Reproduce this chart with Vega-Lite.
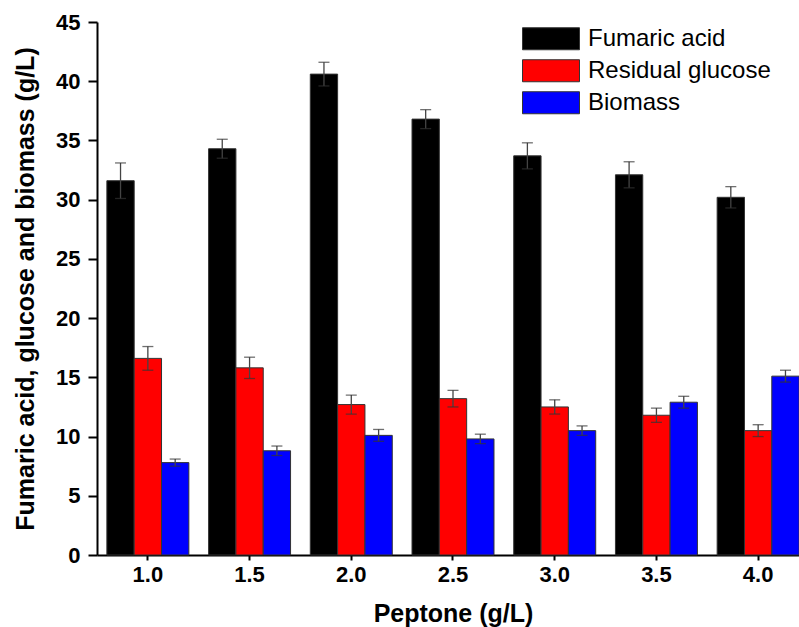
{
  "$schema": "https://vega.github.io/schema/vega-lite/v6.json",
  "autosize": {"type": "none"},
  "padding": {"left": 97, "top": 22, "right": 0, "bottom": 72},
  "width": 712,
  "height": 533,
  "background": "white",
  "config": {
    "view": {"stroke": null},
    "font": "Liberation Sans"
  },
  "data": {
    "values": [
      {"peptone": "1.0", "series": "Fumaric acid", "value": 31.6, "lo": 30.1, "hi": 33.1},
      {"peptone": "1.5", "series": "Fumaric acid", "value": 34.3, "lo": 33.5, "hi": 35.1},
      {"peptone": "2.0", "series": "Fumaric acid", "value": 40.6, "lo": 39.6, "hi": 41.6},
      {"peptone": "2.5", "series": "Fumaric acid", "value": 36.8, "lo": 36.0, "hi": 37.6},
      {"peptone": "3.0", "series": "Fumaric acid", "value": 33.7, "lo": 32.6, "hi": 34.8},
      {"peptone": "3.5", "series": "Fumaric acid", "value": 32.1, "lo": 31.0, "hi": 33.2},
      {"peptone": "4.0", "series": "Fumaric acid", "value": 30.2, "lo": 29.3, "hi": 31.1},
      {"peptone": "1.0", "series": "Residual glucose", "value": 16.6, "lo": 15.6, "hi": 17.6},
      {"peptone": "1.5", "series": "Residual glucose", "value": 15.8, "lo": 14.9, "hi": 16.7},
      {"peptone": "2.0", "series": "Residual glucose", "value": 12.7, "lo": 11.9, "hi": 13.5},
      {"peptone": "2.5", "series": "Residual glucose", "value": 13.2, "lo": 12.5, "hi": 13.9},
      {"peptone": "3.0", "series": "Residual glucose", "value": 12.5, "lo": 11.9, "hi": 13.1},
      {"peptone": "3.5", "series": "Residual glucose", "value": 11.8, "lo": 11.2, "hi": 12.4},
      {"peptone": "4.0", "series": "Residual glucose", "value": 10.5, "lo": 10.0, "hi": 11.0},
      {"peptone": "1.0", "series": "Biomass", "value": 7.8, "lo": 7.5, "hi": 8.1},
      {"peptone": "1.5", "series": "Biomass", "value": 8.8, "lo": 8.4, "hi": 9.2},
      {"peptone": "2.0", "series": "Biomass", "value": 10.1, "lo": 9.6, "hi": 10.6},
      {"peptone": "2.5", "series": "Biomass", "value": 9.8, "lo": 9.4, "hi": 10.2},
      {"peptone": "3.0", "series": "Biomass", "value": 10.5, "lo": 10.1, "hi": 10.9},
      {"peptone": "3.5", "series": "Biomass", "value": 12.9, "lo": 12.4, "hi": 13.4},
      {"peptone": "4.0", "series": "Biomass", "value": 15.1, "lo": 14.6, "hi": 15.6}
    ]
  },
  "encoding": {
    "x": {
      "field": "peptone", "type": "nominal",
      "scale": {"paddingInner": 0.194, "paddingOuter": 0.097},
      "axis": {
        "title": "Peptone (g/L)", "labelAngle": 0,
        "domainColor": "black", "domainWidth": 2,
        "tickColor": "black", "tickWidth": 2, "tickSize": 5,
        "labelFontSize": 22, "labelFontWeight": "bold", "labelColor": "black", "labelPadding": 4,
        "titleFontSize": 25, "titleFontWeight": "bold", "titleColor": "black", "titlePadding": 16
      }
    },
    "xOffset": {"field": "series", "type": "nominal", "sort": ["Fumaric acid", "Residual glucose", "Biomass"], "scale": {"paddingInner": 0, "paddingOuter": 0}}
  },
  "layer": [
    {
      "mark": {"type": "bar", "stroke": "#333", "strokeWidth": 1},
      "encoding": {
        "y": {
          "field": "value", "type": "quantitative",
          "scale": {"domain": [0, 45], "nice": false},
          "axis": {
            "title": "Fumaric acid, glucose and biomass (g/L)",
            "values": [0, 2.5, 5, 7.5, 10, 12.5, 15, 17.5, 20, 22.5, 25, 27.5, 30, 32.5, 35, 37.5, 40, 42.5, 45],
            "labelExpr": "datum.value % 5 === 0 ? datum.label : ''",
            "format": "d",
            "grid": false,
            "domainColor": "black", "domainWidth": 2,
            "tickColor": "black", "tickWidth": 2,
            "tickSize": {"condition": {"test": "datum.value % 5 === 0", "value": 9}, "value": 5},
            "labelFontSize": 22, "labelFontWeight": "bold", "labelColor": "black", "labelPadding": 8,
            "titleFontSize": 25, "titleFontWeight": "bold", "titleColor": "black", "titlePadding": 17
          }
        },
        "color": {
          "field": "series", "type": "nominal",
          "sort": ["Fumaric acid", "Residual glucose", "Biomass"],
          "scale": {"domain": ["Fumaric acid", "Residual glucose", "Biomass"], "range": ["#000000", "#ff0000", "#0000ff"]},
          "legend": {
            "title": null, "orient": "none", "legendX": 425, "legendY": 1,
            "symbolType": "M-1,-0.386H1V0.386H-1Z", "symbolSize": 3249,
            "symbolStrokeColor": "#333", "symbolStrokeWidth": 1, "symbolOpacity": 1,
            "labelFontSize": 24, "labelColor": "black", "labelOffset": 8, "labelLimit": 400,
            "clipHeight": 31.5, "rowPadding": 0
          }
        }
      }
    },
    {
      "mark": {"type": "rule", "color": "#444", "strokeWidth": 1.3},
      "encoding": {
        "y": {"field": "lo", "type": "quantitative"},
        "y2": {"field": "hi"}
      }
    },
    {
      "mark": {"type": "tick", "color": "#333", "thickness": 1.3, "size": 11},
      "encoding": {"y": {"field": "hi", "type": "quantitative"}}
    },
    {
      "mark": {"type": "tick", "color": "#333", "thickness": 1.3, "size": 11},
      "encoding": {"y": {"field": "lo", "type": "quantitative"}}
    }
  ]
}
